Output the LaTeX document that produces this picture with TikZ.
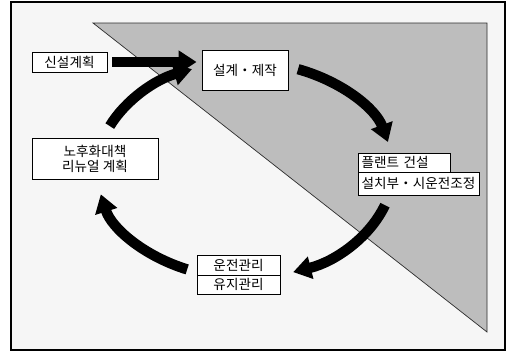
\documentclass[tikz,border=0pt]{standalone}
\usepackage{fontspec}
\setmainfont{Noto Sans CJK KR}
\usetikzlibrary{arrows.meta,calc}
\begin{document}
\begin{tikzpicture}[x=0.03cm,y=0.03cm,
  box/.style={draw=black,line width=0.7pt,fill=white,inner sep=0pt,font=\fontsize{11.6}{13}\selectfont},
  bigarrow/.style={line width=0.31cm,-{Triangle[width=0.66cm,length=0.54cm]}}]
\useasboundingbox (0,0) rectangle (508,352);
\fill[white] (0,0) rectangle (508,352);
\draw[fill=gray!7,line width=0.9pt] (11,2) rectangle (505,350);
\draw[fill=gray!52,draw=gray!35!black,line width=0.6pt] (93,329) -- (487,329) -- (487,20) -- cycle;
% nodes
\node[box,minimum width=2.25cm,minimum height=0.6cm] (new) at (69.5,290) {신설계획};
\node[box,minimum width=2.58cm,minimum height=1.2cm] (design) at (245,282) {설계・제작};
\node[box,minimum width=2.76cm,minimum height=0.57cm,text width=2.55cm,align=left] (plantA) at (404,189.5) {플랜트 건설};
\node[box,minimum width=3.63cm,minimum height=0.69cm] (plantB) at (418.5,168.5) {설치부・시운전조정};
\node[box,minimum width=2.49cm,minimum height=0.6cm] (opA) at (238.5,87) {운전관리};
\node[box,minimum width=2.49cm,minimum height=0.57cm] (opB) at (238.5,67.5) {유지관리};
\node[box,minimum width=3.78cm,minimum height=1.23cm,align=center] (old) at (95,193.5) {노후화대책\\리뉴얼 계획};
% arrows
\draw[bigarrow,line width=0.3cm] ([xshift=0.15cm]new.east) -- ([xshift=-0.15cm]design.west |- new.east);
\coordinate (c) at (245,182);
\coordinate (a3) at ($(c)+(69:148 and 108)$);
\coordinate (a4) at ($(c)+(-19:148 and 108)$);
\coordinate (a5) at ($(c)+(-113:148 and 108)$);
\coordinate (a2) at ($(c)+(156:148 and 108)$);
\draw[bigarrow] (a3) arc[start angle=69,end angle=15,x radius=148,y radius=108];
\draw[bigarrow] (a4) arc[start angle=-19,end angle=-71,x radius=148,y radius=108];
\draw[bigarrow] (a5) arc[start angle=-113,end angle=-167,x radius=148,y radius=108];
\draw[bigarrow] (a2) arc[start angle=156,end angle=111,x radius=148,y radius=108];
\end{tikzpicture}
\end{document}
